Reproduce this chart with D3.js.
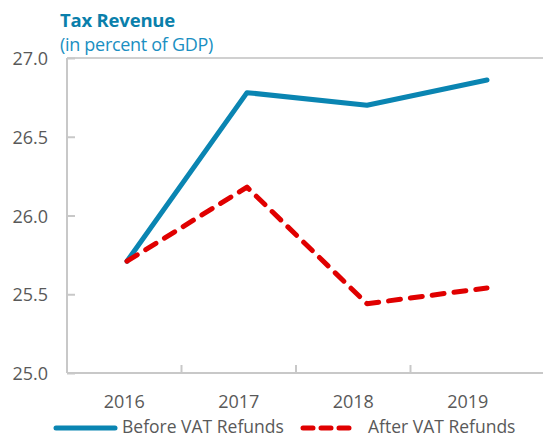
<!DOCTYPE html>
<html><head><meta charset="utf-8">
<script src="https://cdn.jsdelivr.net/npm/d3@7"></script>
<style>body{margin:0;background:#fff}svg{display:block}</style>
</head><body>
<svg id="c" width="544" height="438"></svg>
<script>
const years = ["2016","2017","2018","2019"];
const beforeVAT = [25.71, 26.78, 26.70, 26.86];
const afterVAT = [25.71, 26.18, 25.44, 25.54];
const yTicks = [25.0, 25.5, 26.0, 26.5, 27.0];

(function () {
const svg = d3.select("#c");
const font = "'Open Sans', sans-serif";
const mLeft = 67, mTop = 58, mBottom = 373;
const y = d3.scaleLinear().domain([25, 27]).range([mBottom, mTop]);
const xAxisScale = d3.scaleBand().domain(years).range([mLeft, 525]);
const xLine = d3.scalePoint().domain(years).range([mLeft, 547]).padding(0.5);

// frame lines
svg.append("line").attr("x1", mLeft).attr("x2", 543).attr("y1", y(27)).attr("y2", y(27))
  .attr("stroke", "#d0d0d0").attr("stroke-width", 2);
svg.append("line").attr("x1", mLeft).attr("x2", 543).attr("y1", y(25)).attr("y2", y(25))
  .attr("stroke", "#c8c8c8").attr("stroke-width", 2);
svg.append("line").attr("x1", mLeft).attr("x2", mLeft).attr("y1", y(27)).attr("y2", y(25))
  .attr("stroke", "#c8c8c8").attr("stroke-width", 2);

// y ticks
const yAxis = svg.append("g").attr("transform", `translate(${mLeft},0)`)
  .call(d3.axisRight(y).tickValues(yTicks).tickSize(8).tickFormat(""));
yAxis.select(".domain").remove();
yAxis.selectAll("line").attr("stroke", "#c8c8c8").attr("stroke-width", 2);
svg.selectAll(".ylab").data(yTicks).join("text")
  .attr("x", 48).attr("y", d => y(d) + 7).attr("text-anchor", "end")
  .attr("font-family", font).attr("font-size", 18).attr("fill", "#595959")
  .text(d => d.toFixed(1));

// x ticks between categories
const xBounds = years.slice(1).map(d => xAxisScale(d));
svg.selectAll(".xt").data(xBounds).join("line")
  .attr("x1", d => d).attr("x2", d => d).attr("y1", mBottom).attr("y2", mBottom - 8)
  .attr("stroke", "#c8c8c8").attr("stroke-width", 2);
svg.selectAll(".xlab").data(years).join("text")
  .attr("x", d => xAxisScale(d) + xAxisScale.bandwidth() / 2).attr("y", 408)
  .attr("text-anchor", "middle").attr("font-family", font).attr("font-size", 18)
  .attr("fill", "#595959").text(d => d);

// lines
const line = d3.line().x((d, i) => xLine(years[i])).y(d => y(d));
svg.append("path").datum(beforeVAT).attr("d", line).attr("fill", "none")
  .attr("stroke", "#0a85b2").attr("stroke-width", 5).attr("stroke-linecap", "round").attr("stroke-linejoin", "round");
svg.append("path").datum(afterVAT).attr("d", line).attr("fill", "none")
  .attr("stroke", "#e00000").attr("stroke-width", 5).attr("stroke-dasharray", "12,10").attr("stroke-linecap", "round").attr("stroke-linejoin", "round");

// title
svg.append("text").attr("x", 60).attr("y", 27).attr("font-family", font).attr("font-weight", "bold")
  .attr("font-size", 18.5).attr("fill", "#0a7fab").attr("letter-spacing", -0.2).text("Tax Revenue");
svg.append("text").attr("x", 60).attr("y", 51).attr("font-family", font)
  .attr("font-size", 18).attr("fill", "#1a8fc2").attr("letter-spacing", -0.3).text("(in percent of GDP)");

// legend
svg.append("line").attr("x1", 56).attr("x2", 115).attr("y1", 428).attr("y2", 428)
  .attr("stroke", "#0a85b2").attr("stroke-width", 5).attr("stroke-linecap", "round");
svg.append("text").attr("x", 122).attr("y", 433).attr("font-family", font).attr("font-size", 17.5)
  .attr("fill", "#595959").text("Before VAT Refunds");
svg.append("line").attr("x1", 303).attr("x2", 355).attr("y1", 428).attr("y2", 428)
  .attr("stroke", "#e00000").attr("stroke-width", 5).attr("stroke-dasharray", "10,8").attr("stroke-linecap", "round");
svg.append("text").attr("x", 368).attr("y", 433).attr("font-family", font).attr("font-size", 17.5)
  .attr("fill", "#595959").text("After VAT Refunds");
})();
</script>
</body></html>
